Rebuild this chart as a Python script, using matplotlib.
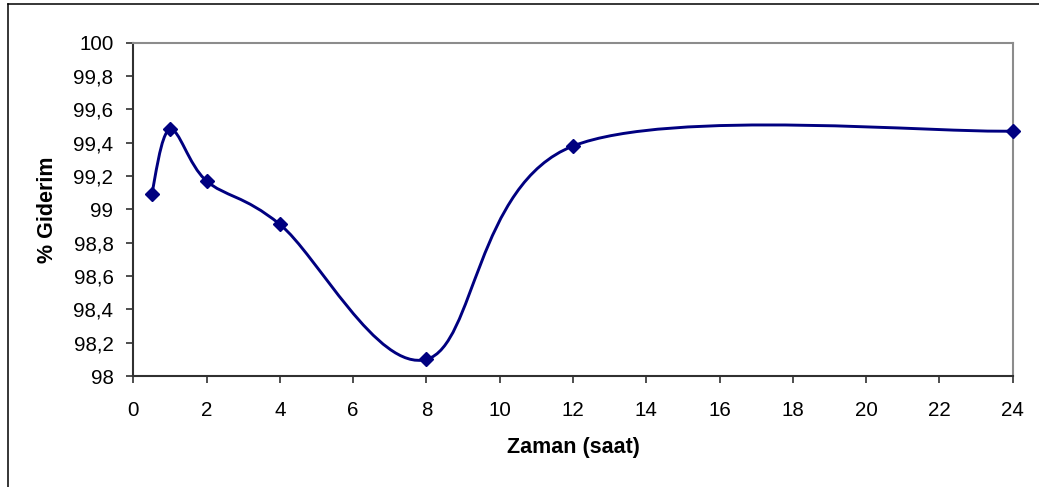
import numpy as np
import matplotlib
matplotlib.use("Agg")
import matplotlib.pyplot as plt
from matplotlib.path import Path
from matplotlib.patches import PathPatch
from matplotlib.lines import Line2D

# zaman (saat) ve % giderim değerleri
zaman = [0.5, 1, 2, 4, 8, 12, 24]
giderim = [99.09, 99.48, 99.17, 98.91, 98.10, 99.38, 99.47]

xticks = list(range(0, 25, 2))
yticks = [98, 98.2, 98.4, 98.6, 98.8, 99, 99.2, 99.4, 99.6, 99.8, 100]
ytick_labels = ["98", "98,2", "98,4", "98,6", "98,8", "99", "99,2",
                "99,4", "99,6", "99,8", "100"]

plt.rcParams['font.family'] = ['Liberation Sans', 'DejaVu Sans']
lacivert = '#000080'


def yumusak_egri(x, y):
    # Excel tarzı düzgün çizgi: Catmull-Rom -> kübik Bezier
    p = np.column_stack([x, y]).astype(float)
    n = len(p)
    verts = [p[0]]
    codes = [Path.MOVETO]
    for i in range(n - 1):
        p0 = p[max(i - 1, 0)]
        p1 = p[i]
        p2 = p[i + 1]
        p3 = p[min(i + 2, n - 1)]
        c1 = p1 + (p2 - p0) / 6.0
        c2 = p2 - (p3 - p1) / 6.0
        verts += [c1, c2, p2]
        codes += [Path.CURVE4] * 3
    return Path(verts, codes)


fig = plt.figure(figsize=(10.39, 4.87), dpi=100)
ax = fig.add_axes([0.1283, 0.2279, 0.8464, 0.6844])

egri = PathPatch(yumusak_egri(zaman, giderim), facecolor='none',
                 edgecolor=lacivert, lw=2.1, zorder=3, capstyle='round')
ax.add_patch(egri)
ax.plot(zaman, giderim, linestyle='none', marker='D', ms=7.6,
        color=lacivert, mec=lacivert, zorder=4, clip_on=False)

ax.set_xlim(0, 24)
ax.set_ylim(98, 100)
ax.set_xticks(xticks)
ax.set_yticks(yticks)
ax.set_yticklabels(ytick_labels)
ax.tick_params(axis='both', direction='out', length=4.8, width=1.2,
               color='#303030', labelsize=14.8, labelcolor='black')
ax.tick_params(axis='y', pad=9.5)
ax.tick_params(axis='x', pad=13.5)

for s in ['left', 'bottom']:
    ax.spines[s].set_color('#303030')
    ax.spines[s].set_linewidth(1.5)
for s in ['top', 'right']:
    ax.spines[s].set_color('#8c8c8c')
    ax.spines[s].set_linewidth(1.5)

ax.set_xlabel('Zaman (saat)', fontsize=15.5, fontweight='bold', va='top')
ax.xaxis.set_label_coords(0.5, -0.184)
ax.set_ylabel('% Giderim', fontsize=15.5, fontweight='bold', va='center')
ax.yaxis.set_label_coords(-0.0975, 0.5)

# grafik alanının dış çerçevesi
fig.add_artist(Line2D([8 / 1039, 8 / 1039], [0, 1 - 4 / 487],
                      transform=fig.transFigure, color='black', lw=1.1))
fig.add_artist(Line2D([8 / 1039, 1], [1 - 4 / 487, 1 - 4 / 487],
                      transform=fig.transFigure, color='black', lw=1.1))

fig.savefig('out.png', dpi=100, facecolor='white')
